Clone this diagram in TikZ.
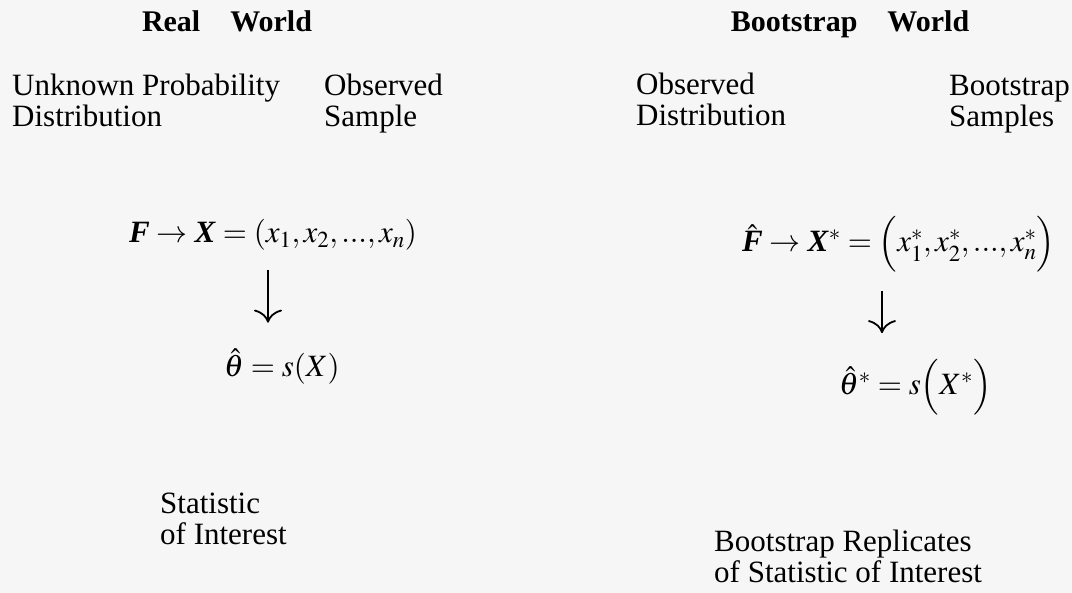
\documentclass[tikz,border=0pt]{standalone}
\usepackage{amsmath}
\usepackage{mathptmx}
\usepackage{fontspec}
\setmainfont{Liberation Serif}
\usepackage{xcolor}
\usepackage{tikz}
\usetikzlibrary{arrows.meta, positioning}
\definecolor{paper}{HTML}{F6F6F6}
\newcommand{\bvar}[1]{\textbf{\textit{#1}}}

\begin{document}
\begin{tikzpicture}[x=1pt, y=-1pt]
	% Styles
	\tikzstyle{head} = [anchor=base, inner sep=2pt, font=\fontsize{30}{30}\selectfont\bfseries]
	\tikzstyle{lbl} = [anchor=base west, inner sep=2pt, align=left, font=\fontsize{31}{31}\selectfont]
	\tikzstyle{eqn} = [anchor=base west, inner sep=2pt, font=\fontsize{31}{31}\selectfont]
	\tikzstyle{darrow} = [line width=1.8pt, -{To[length=13pt, width=28pt]}, shorten <=17pt, shorten >=24pt]

	\useasboundingbox (0,0) rectangle (1072,593);
	\fill[paper] (0,0) rectangle (1072,593);

	% Nodes (base of a two-line label = its second line)
	\node (realhd) [head] at (227,32) {Real\quad World};
	\node (boothd) [head] at (850,32) {Bootstrap\quad World};
	\node (unknown) [lbl] at (10,127) {Unknown Probability\\Distribution};
	\node (sampleL) [lbl] at (322,127) {Observed\\Sample};
	\node (distR) [lbl] at (634,126) {Observed\\Distribution};
	\node (sampleR) [lbl] at (947,127) {Bootstrap\\Samples};
	\node (realeq) [eqn] at (127,243) {$\bvar{F} \to \bvar{X} = (x_1, x_2,...,x_n)$};
	\node (theta) [eqn] at (222,377) {$\hat{\theta} = s(X)$};
	\node (stat) [lbl] at (158,545) {Statistic\\of Interest};
	\node (booteq) [eqn] at (740,252) {$\hat{\bvar{F}} \to \bvar{X}^{*} = \Bigl(x_1^{*}, x_2^{*},...,x_n^{*}\Bigr)$};
	\node (thetastar) [eqn] at (837,395) {$\hat{\theta}^{*} = s\Bigl(X^{*}\Bigr)$};
	\node (repl) [lbl] at (712,583) {Bootstrap Replicates\\of Statistic of Interest};
	\coordinate (colL) at (268,0);
	\coordinate (colR) at (882,0);

	% Connections
	\draw [darrow] (realeq.south -| colL) -- (theta.north -| colL);
	\draw [darrow] (booteq.south -| colR) -- (thetastar.north -| colR);

\end{tikzpicture}
\end{document}
